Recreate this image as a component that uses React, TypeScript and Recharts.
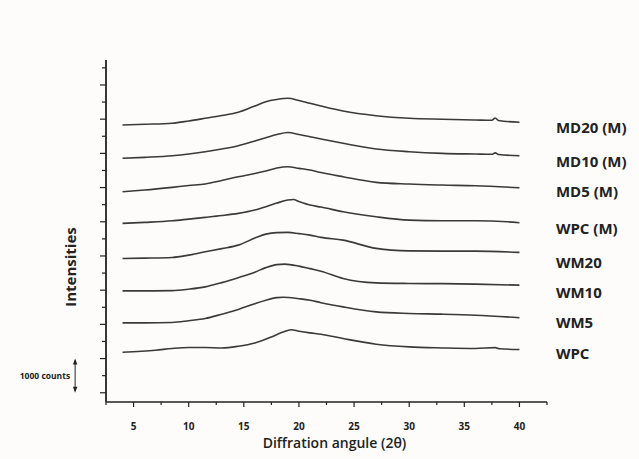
import React from 'react';
import { LineChart, Line, XAxis, YAxis, ReferenceDot, ReferenceLine } from 'recharts';

// 2θ angles and intensities (counts, vertically offset stacks)
const md20Angles = [4, 6, 8.5, 10, 11.5, 13, 14.5, 16, 17, 18, 19, 20, 21, 22, 24, 27, 30, 33, 36, 37.5, 37.8, 38.1, 40];
const md20Counts = [7830, 7850, 7880, 7947, 8026, 8108, 8201, 8386, 8512, 8576, 8611, 8547, 8465, 8386, 8240, 8102, 8026, 7997, 7976, 7967, 8035, 7961, 7909];

const md10Angles = [4, 6, 8.5, 10, 11.5, 13, 14.5, 16, 17, 18, 19, 20, 21, 22, 24, 27, 30, 33, 36, 37.5, 37.8, 38.1, 40];
const md10Counts = [6855, 6884, 6931, 6981, 7048, 7127, 7224, 7361, 7458, 7552, 7610, 7552, 7487, 7420, 7294, 7127, 7048, 7001, 6981, 6972, 7015, 6966, 6931];

const md5Angles = [4, 6, 8.5, 10, 11.5, 13, 14.5, 16, 17, 18, 19, 20, 21, 22, 24, 27, 30, 33, 36, 40];
const md5Counts = [5877, 5927, 6006, 6059, 6103, 6205, 6316, 6410, 6483, 6571, 6609, 6562, 6513, 6439, 6316, 6153, 6103, 6074, 6053, 5994];

const wpcMAngles = [4, 6, 8.5, 10, 11.5, 13, 14.5, 16, 17, 18, 19, 19.5, 20, 21, 22, 24, 27, 30, 33, 36, 38.9, 40];
const wpcMCounts = [4953, 4982, 5029, 5078, 5128, 5181, 5245, 5342, 5438, 5547, 5634, 5649, 5591, 5488, 5430, 5292, 5146, 5049, 5029, 5029, 4999, 4970];

const wm20Angles = [4, 6, 8.5, 10, 11.5, 13, 14.5, 16, 17, 18, 19, 20, 21, 22, 24, 27, 30, 33, 36, 40];
const wm20Counts = [3928, 3937, 3957, 4025, 4121, 4215, 4317, 4522, 4639, 4683, 4689, 4654, 4610, 4543, 4464, 4221, 4150, 4142, 4142, 4104];

const wm10Angles = [4, 6, 8.5, 10, 11.5, 13, 14.5, 16, 17, 18, 18.7, 20, 21, 22, 24, 27, 30, 33, 36, 40];
const wm10Counts = [2980, 2980, 2986, 3029, 3097, 3220, 3366, 3527, 3659, 3747, 3761, 3703, 3629, 3556, 3343, 3214, 3196, 3190, 3176, 3147];

const wm5Angles = [4, 6, 8.5, 10, 11.5, 13, 14.5, 16, 17, 18, 18.6, 20, 21, 22, 24, 27, 30, 33, 36, 40];
const wm5Counts = [2043, 2043, 2055, 2107, 2172, 2298, 2435, 2605, 2707, 2781, 2795, 2751, 2707, 2634, 2511, 2365, 2318, 2298, 2268, 2195];

const wpcAngles = [4, 7, 8.5, 10, 11.5, 13, 14.5, 16, 17.5, 18.5, 19.3, 20, 21, 22, 24, 27, 30, 33, 36, 37.8, 38.2, 40];
const wpcCounts = [1185, 1244, 1294, 1323, 1323, 1310, 1361, 1458, 1633, 1771, 1844, 1800, 1750, 1712, 1586, 1420, 1341, 1311, 1294, 1320, 1288, 1264];

const sampleNames = ['MD20 (M)', 'MD10 (M)', 'MD5 (M)', 'WPC (M)', 'WM20', 'WM10', 'WM5', 'WPC'];
const labelLevels = [7762, 6776, 5907, 4806, 3811, 2950, 2072, 1177];

const xTicks = [2.5, 5, 7.5, 10, 12.5, 15, 17.5, 20, 22.5, 25, 27.5, 30, 32.5, 35, 37.5, 40, 42.5];
const yTicks = [0, 500, 1000, 1500, 2000, 2500, 3000, 3500, 4000, 4500, 5000, 5500, 6000, 6500, 7000, 7500, 8000, 8500, 9000, 9500];
const scaleBarAngle = -0.3;
const scaleBarCounts = [0, 1000];

const zip = (a: number[], c: number[]) => a.map((v, i) => ({ a: v, c: c[i] }));
const seriesData = [
  zip(md20Angles, md20Counts),
  zip(md10Angles, md10Counts),
  zip(md5Angles, md5Counts),
  zip(wpcMAngles, wpcMCounts),
  zip(wm20Angles, wm20Counts),
  zip(wm10Angles, wm10Counts),
  zip(wm5Angles, wm5Counts),
  zip(wpcAngles, wpcCounts),
];

const FONT = '"Open Sans", sans-serif';
const INK = '#222';

const YTick = (props: any) => {
  const { x, y, payload } = props;
  const major = payload.value % 1000 === 0;
  const len = major ? 6 : 4;
  return <line x1={x - len} x2={x} y1={y} y2={y} stroke={INK} strokeWidth={1.2} />;
};

const XTick = (props: any) => {
  const { x, y, payload } = props;
  const major = payload.value % 5 === 0;
  return (
    <g>
      <line x1={x} x2={x} y1={y} y2={y + (major ? 5 : 3)} stroke={INK} strokeWidth={1.2} />
      {major && (
        <text x={x} y={y + 24} textAnchor="middle" dominantBaseline="central" fontSize={10} fontWeight={700} fill={INK} fontFamily={FONT}>
          {payload.value}
        </text>
      )}
    </g>
  );
};

const ScaleBar = (props: any) => {
  const { x1, y1, y2 } = props;
  const top = Math.min(y1, y2);
  const bot = Math.max(y1, y2);
  const mid = (top + bot) / 2;
  return (
    <g>
      <line x1={x1} x2={x1} y1={top + 2} y2={bot - 2} stroke={INK} strokeWidth={1} />
      <path d={`M${x1},${top} L${x1 - 2.2},${top + 6} L${x1 + 2.2},${top + 6} Z`} fill={INK} />
      <path d={`M${x1},${bot} L${x1 - 2.2},${bot - 6} L${x1 + 2.2},${bot - 6} Z`} fill={INK} />
      <text x={x1 - 5} y={mid} textAnchor="end" dominantBaseline="central" fontSize={8.5} fontWeight={700} fill={INK} fontFamily={FONT}>
        1000 counts
      </text>
    </g>
  );
};

export default function App() {
  return (
    <div style={{ position: 'absolute', left: 0, top: 0, width: 639, height: 459, background: '#fdfcfa' }}>
      <LineChart width={639} height={459} margin={{ top: 60, right: 92, bottom: 0, left: 0 }}>
        <XAxis
          type="number"
          dataKey="a"
          domain={[2.5, 42.5]}
          ticks={xTicks}
          interval={0}
          height={57}
          tickLine={false}
          tickSize={0}
          tickMargin={0}
          tick={<XTick />}
          axisLine={{ stroke: INK, strokeWidth: 1.6 }}
          allowDataOverflow
          label={{
            content: (p: any) => {
              const vb = p.viewBox;
              return (
                <text x={vb.x + vb.width / 2 + 8} y={vb.y + 40} textAnchor="middle" dominantBaseline="central" fontSize={14} fontWeight={600} fill={INK} fontFamily={FONT}>
                  Diffration angule (2θ)
                </text>
              );
            },
          }}
        />
        <YAxis
          type="number"
          domain={[-270, 9730]}
          ticks={yTicks}
          interval={0}
          width={106}
          tickLine={false}
          tickSize={0}
          tickMargin={0}
          tick={<YTick />}
          axisLine={{ stroke: INK, strokeWidth: 1.8 }}
          allowDataOverflow
          label={{
            content: (p: any) => {
              const vb = p.viewBox;
              const cx = vb.x + 70;
              const cy = vb.y + vb.height / 2 + 36;
              return (
                <text x={cx} y={cy} transform={`rotate(-90 ${cx} ${cy})`} textAnchor="middle" dominantBaseline="central" fontSize={15} fontWeight={700} fill={INK} fontFamily={FONT}>
                  Intensities
                </text>
              );
            },
          }}
        />
        {seriesData.map((d, i) => (
          <Line
            key={sampleNames[i]}
            data={d}
            dataKey="c"
            type="monotone"
            stroke="#3a3a3a"
            strokeWidth={1.6}
            dot={false}
            isAnimationActive={false}
          />
        ))}
        {sampleNames.map((name, i) => (
          <ReferenceDot
            key={'lbl' + name}
            x={40}
            y={labelLevels[i]}
            r={0}
            ifOverflow="visible"
            shape={(p: any) => (
              <text x={p.cx + 36.5} y={p.cy} dominantBaseline="central" fontSize={15} fontWeight={700} fill={INK} fontFamily={FONT}>
                {name}
              </text>
            )}
          />
        ))}
        <ReferenceLine
          segment={[
            { x: scaleBarAngle, y: scaleBarCounts[0] },
            { x: scaleBarAngle, y: scaleBarCounts[1] },
          ]}
          ifOverflow="visible"
          shape={<ScaleBar />}
        />
      </LineChart>
    </div>
  );
}
